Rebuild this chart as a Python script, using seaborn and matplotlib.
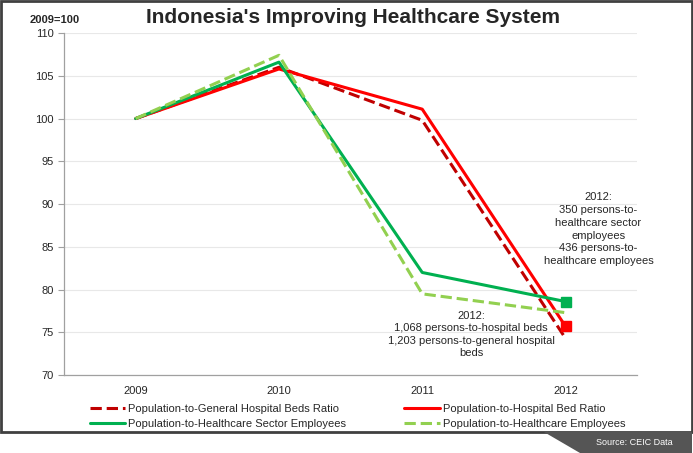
import numpy as np
import pandas as pd
import matplotlib
matplotlib.use("Agg")
import matplotlib.pyplot as plt
import seaborn as sns
from matplotlib.patches import Rectangle, Polygon

# datos (2009=100)
anios = ["2009", "2010", "2011", "2012"]
camas_general = [100, 106.0, 99.8, 74.3]
camas_hospital = [100, 105.8, 101.1, 75.7]
empleados_sector = [100, 106.6, 82.0, 78.6]
empleados_salud = [100, 107.4, 79.5, 77.3]

nombres = ["Population-to-General Hospital Beds Ratio",
           "Population-to-Hospital Bed Ratio",
           "Population-to-Healthcare Sector Employees",
           "Population-to-Healthcare Employees"]
colores = ["#C00000", "#FF0000", "#00B050", "#92D050"]
estilos = ["--", "-", "-", "--"]

sns.set_style("white")
plt.rcParams['font.family'] = ['Liberation Sans', 'DejaVu Sans']

fig = plt.figure(figsize=(6.93, 4.53), dpi=100)
ax = fig.add_axes([0.0924, 0.172, 0.827, 0.755])

x = np.arange(len(anios))
series = [camas_general, camas_hospital, empleados_sector, empleados_salud]
lineas = {}
for nom, vals, col, est in zip(nombres, series, colores, estilos):
    df = pd.DataFrame({"x": x, "y": vals})
    sns.lineplot(data=df, x="x", y="y", ax=ax, color=col, linestyle=est,
                 linewidth=2.2, label=nom)
    lineas[nom] = ax.lines[-1]

# marcadores cuadrados al final (2012)
ax.plot(x[-1], camas_hospital[-1], marker="s", color="#FF0000", markersize=7, linestyle="none")
ax.plot(x[-1], empleados_sector[-1], marker="s", color="#00B050", markersize=7, linestyle="none")

ax.set_xlim(-0.5, 3.5)
ax.set_ylim(70, 110)
ax.set_yticks(np.arange(70, 111, 5))
ax.set_xticks(x)
ax.set_xticklabels(anios)
ax.set_xticks(np.arange(-0.5, 3.6, 1), minor=True)
ax.tick_params(axis="x", which="major", length=0, labelsize=8, pad=8)
ax.tick_params(axis="x", which="minor", length=4, color="#A0A0A0", direction="out")
ax.tick_params(axis="y", length=4, color="#A0A0A0", direction="out", labelsize=8, left=True)
ax.set_xlabel("")
ax.set_ylabel("")
ax.grid(axis="y", color="#E8E8E8", linewidth=0.8)
ax.set_axisbelow(True)
for s in ["top", "right"]:
    ax.spines[s].set_visible(False)
for s in ["left", "bottom"]:
    ax.spines[s].set_color("#A0A0A0")
    ax.spines[s].set_linewidth(0.9)

ax.get_legend().remove()
orden = [nombres[0], nombres[2], nombres[1], nombres[3]]
fig.legend([lineas[n] for n in orden], orden, ncol=2, loc="upper left",
           bbox_to_anchor=(0.118, 0.125), frameon=False, fontsize=8,
           handlelength=3.2, columnspacing=5.2, labelspacing=0.45, handletextpad=0.3,
           borderpad=0.2)

# anotaciones
ax.text(3.23, 91.4, "2012:\n350 persons-to-\nhealthcare sector\nemployees\n436 persons-to-\nhealthcare employees",
        ha="center", va="top", fontsize=8, linespacing=1.35)
ax.text(2.34, 77.5, "2012:\n1,068 persons-to-hospital beds\n1,203 persons-to-general hospital\nbeds",
        ha="center", va="top", fontsize=8, linespacing=1.3)

fig.text(0.51, 0.962, "Indonesia's Improving Healthcare System", ha="center", va="center",
         fontsize=15, fontweight="bold")
fig.text(0.043, 0.955, "2009=100", ha="left", va="center", fontsize=8, fontweight="bold")

# marco y pie
fig.patches.append(Rectangle((0.002, 0.047), 0.996, 0.951, transform=fig.transFigure,
                             fill=False, edgecolor="#404040", linewidth=2))
fig.patches.append(Polygon([(0.785, 0.047), (0.998, 0.047), (0.998, 0.0), (0.837, 0.0)],
                           closed=True, transform=fig.transFigure, facecolor="#555555",
                           edgecolor="none"))
fig.text(0.971, 0.024, "Source: CEIC Data", ha="right", va="center", fontsize=6.5, color="white")

fig.savefig("out.png", dpi=100)
